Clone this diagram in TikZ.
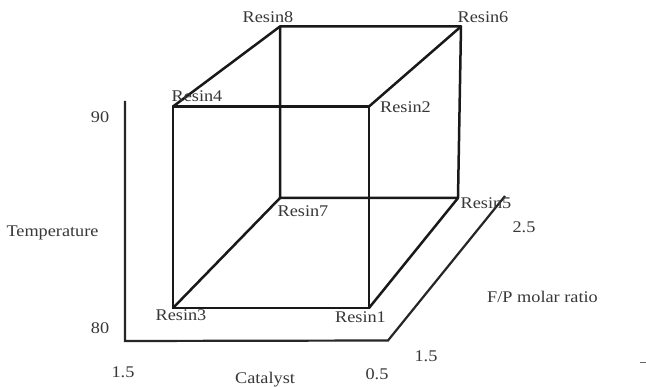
\documentclass[tikz,border=0pt]{standalone}
\usepackage{fontspec}
\setmainfont{Liberation Serif}[FakeStretch=1.12]
\begin{document}
\begin{tikzpicture}[x=1pt,y=-1pt,
  edge/.style={line width=2.5pt,line cap=round,line join=round,black!90},
  axisline/.style={line width=2.2pt,black!85},
  lbl/.style={anchor=base,inner sep=0pt,text=black!78,font=\fontsize{16.3}{18}\selectfont}]
\useasboundingbox[fill=white] (0,0) rectangle (646,387);
% cube vertices
\coordinate (r3) at (173,308);
\coordinate (r1) at (369,308);
\coordinate (r4) at (173,106.5);
\coordinate (r2) at (369,106.5);
\coordinate (r8) at (280,26.5);
\coordinate (r6) at (461,26.5);
\coordinate (r7) at (280,198);
\coordinate (r5) at (458,198);
% axes
\coordinate (atop) at (125,101);
\coordinate (aorig) at (125,341);
\coordinate (aright) at (388,340.5);
\coordinate (adiag) at (505,196);
\draw[axisline] (atop) -- (aorig) -- (aright) -- (adiag);
% cube edges
\draw[edge] (r3) -- (r1) -- (r2) -- (r4) -- cycle;
\draw[edge] (r7) -- (r5) -- (r6) -- (r8) -- cycle;
\draw[edge] (r3) -- (r7);
\draw[edge] (r1) -- (r5);
\draw[edge] (r2) -- (r6);
\draw[edge] (r4) -- (r8);
% vertex labels
\node[lbl] (l8) at (268,23) {Resin8};
\node[lbl] (l6) at (483,23) {Resin6};
\node[lbl] (l4) at (197,102) {Resin4};
\node[lbl] (l2) at (405.5,113) {Resin2};
\node[lbl] (l7) at (303,217) {Resin7};
\node[lbl] (l5) at (486,209) {Resin5};
\node[lbl] (l3) at (181,321) {Resin3};
\node[lbl] (l1) at (360.5,323) {Resin1};
% axis labels
\node[lbl] (t90) at (100,123) {90};
\node[lbl] (t80) at (100,334) {80};
\node[lbl] (ttemp) at (52.5,237) {Temperature};
\node[lbl] (c15) at (123,378) {1.5};
\node[lbl] (cat) at (265,384) {Catalyst};
\node[lbl] (c05) at (377,380) {0.5};
\node[lbl] (f15) at (426,362) {1.5};
\node[lbl] (f25) at (524,233) {2.5};
\node[lbl] (fp) at (542.5,303) {F/P molar ratio};
% small dash
\coordinate (d1) at (640,363);
\coordinate (d2) at (646,363);
\draw[line width=1pt,black!60] (d1) -- (d2);
\end{tikzpicture}
\end{document}
